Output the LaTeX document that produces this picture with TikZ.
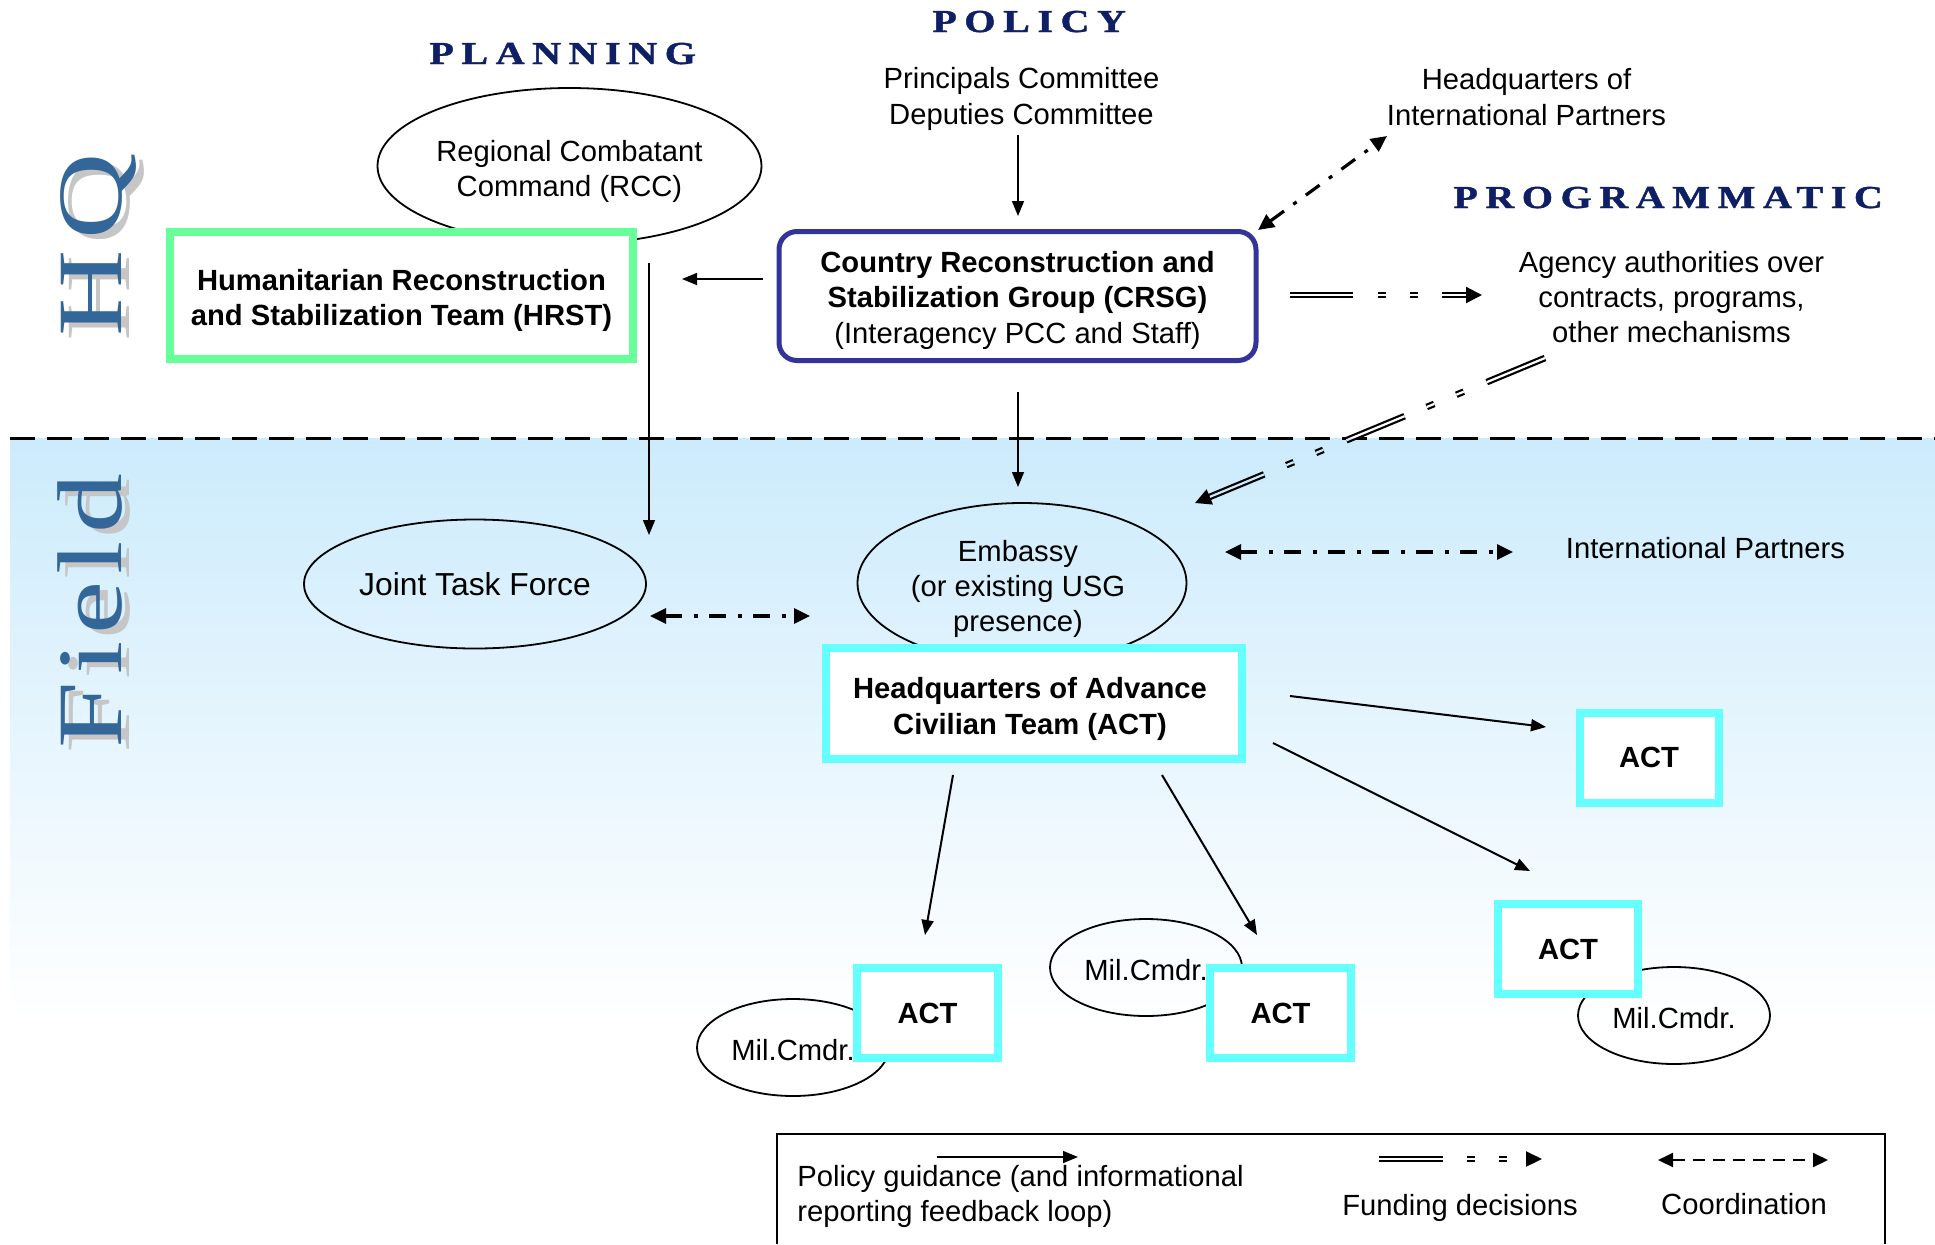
\documentclass[tikz,border=0pt]{standalone}
\usepackage{fontspec}
\usepackage{graphicx}
\setmainfont{Liberation Sans}
\newfontfamily\headserif[LetterSpace=19,FakeBold=1.2]{Liberation Serif}
\newfontfamily\bigserif[LetterSpace=6]{Liberation Serif}
\usetikzlibrary{arrows.meta,shapes.geometric}
\definecolor{navy}{HTML}{0F1F66}
\definecolor{hqblue}{HTML}{336699}
\definecolor{fieldtop}{HTML}{CCEBFC}
\definecolor{hrstgreen}{HTML}{66FF99}
\definecolor{actcyan}{HTML}{66FFFF}
\definecolor{crsgblue}{HTML}{333399}
\newcommand\nf{\fontsize{14.6pt}{17.6pt}\selectfont}
\tikzset{
  txt/.style={font=\nf, inner sep=0pt, align=center},
  oval/.style={ellipse, draw=black, line width=0.9pt, inner sep=0pt, font=\nf, align=center},
  greenbox/.style={draw=hrstgreen, line width=4pt, fill=white, inner sep=0pt, font=\nf\bfseries, align=center},
  cyanbox/.style={draw=actcyan, line width=4pt, fill=white, inner sep=0pt, font=\nf\bfseries, align=center},
  policy/.style={line width=0.75pt, -{Triangle[length=7.5pt,width=6pt]}},
  coordarrow/.style={line width=1.6pt, dash pattern=on 8.5pt off 5.75pt on 2pt off 5.75pt,
     {Triangle[length=8pt,width=7.5pt]}-{Triangle[length=8pt,width=7.5pt]}},
  fund/.style={line width=1.1pt, double distance=1.1pt,
     dash pattern=on 31.5pt off 12.5pt on 4pt off 12pt on 4pt off 12pt,
     -{Triangle[length=8pt,width=8pt]}},
  heading/.style={text=navy, inner sep=0pt, anchor=base west,
     font=\headserif\bfseries\fontsize{16pt}{18pt}\selectfont},
  vlabel/.style={rotate=90, anchor=base, inner sep=0pt},
}
\begin{document}
\begin{tikzpicture}[x=0.5pt,y=-0.5pt]
\useasboundingbox (0,0) rectangle (1935,1244);
% field background
\shade[top color=fieldtop, bottom color=white] (10,438) rectangle (1935,1020);
\draw[line width=1.5pt, dash pattern=on 12.5pt off 6pt] (10,438) -- (1935,438);

% side labels
\node[vlabel, text=gray!45] (hqsh) at (129,250) {\scalebox{1.3}[1]{\bigserif\fontsize{46pt}{50pt}\selectfont H\kern4pt Q}};
\node[vlabel, text=hqblue] (hq) at (121,245) {\scalebox{1.3}[1]{\bigserif\fontsize{46pt}{50pt}\selectfont H\kern4pt Q}};
\node[vlabel, text=gray!45] (fieldsh) at (129,616) {\scalebox{1.3}[1]{\bigserif\fontsize{46pt}{50pt}\selectfont Field}};
\node[vlabel, text=hqblue] (field) at (121,611) {\scalebox{1.3}[1]{\bigserif\fontsize{46pt}{50pt}\selectfont Field}};

% headings
\node[heading] (planning) at (429,64) {\scalebox{1.25}[1]{PLANNING}};
\node[heading] (policyh) at (932,32) {\scalebox{1.25}[1]{POLICY}};
\node[heading] (programmatic) at (1453,208) {\scalebox{1.25}[1]{PROGRAMMATIC}};

% HQ level
\node[oval, fill=white, minimum width=192pt, minimum height=78pt,
      label={[txt, yshift=-2.8pt]center:Regional Combatant\\Command (RCC)}] (rcc) at (569.5,166) {};
\node[greenbox, minimum width=231.5pt, minimum height=63.5pt,
      label={[txt, font=\nf\bfseries, yshift=-2.5pt]center:Humanitarian Reconstruction\\and Stabilization Team (HRST)}] (hrst) at (401.5,295.5) {};
\node[draw=crsgblue, line width=2.5pt, rounded corners=9pt, fill=white, inner sep=0pt,
      minimum width=238.5pt, minimum height=64.5pt,
      label={[txt, yshift=-2.2pt]center:\textbf{Country Reconstruction and}\\\textbf{Stabilization Group (CRSG)}\\(Interagency PCC and Staff)}] (crsg) at (1017.5,296) {};
\node[txt] (pc) at (1021.5,99) {Principals Committee\\Deputies Committee};
\node[txt] (hqip) at (1526.5,97) {Headquarters of\\International Partners};
\node[txt] (agency) at (1671.5,297) {Agency authorities over\\contracts, programs,\\other mechanisms};

% Field level
\node[oval, minimum width=171pt, minimum height=64.5pt, font=\fontsize{15.9pt}{18pt}\selectfont] (jtf) at (475,584) {Joint Task Force};
\node[oval, minimum width=164.5pt, minimum height=80pt,
      label={[txt, xshift=-2pt, yshift=-3pt]center:Embassy\\(or existing USG\\presence)}] (emb) at (1022,583) {};
\node[cyanbox, minimum width=208pt, minimum height=55.5pt,
      label={[txt, font=\nf\bfseries, xshift=-2pt, yshift=-2.7pt]center:Headquarters of Advance\\Civilian Team (ACT)}] (hqact) at (1034,703.5) {};
\node[txt, anchor=base] (ip) at (1705.5,558) {International Partners};

\node[oval, minimum width=96pt, minimum height=48.5pt,
      label={[txt, yshift=-1.5pt]center:Mil.Cmdr.}] (mc2) at (793,1047.5) {};
\node[oval, minimum width=96pt, minimum height=48.5pt,
      label={[txt, yshift=-1.5pt]center:Mil.Cmdr.}] (mc3) at (1146,967.5) {};
\node[oval, minimum width=96pt, minimum height=48.5pt,
      label={[txt, yshift=-1.5pt]center:Mil.Cmdr.}] (mc4) at (1674,1015.5) {};
\node[cyanbox, minimum width=69.5pt, minimum height=45pt] (act1) at (1649,757.5) {ACT};
\node[cyanbox, minimum width=70.5pt, minimum height=45pt] (act2) at (927.5,1013) {ACT};
\node[cyanbox, minimum width=70.5pt, minimum height=45pt] (act3) at (1280.5,1013) {ACT};
\node[cyanbox, minimum width=70pt, minimum height=45pt] (act4) at (1568,949) {ACT};

% connector end points
\coordinate (pcS) at (1018,135);   \coordinate (crsgN) at (1018,216);
\coordinate (crsgW) at (763,279);  \coordinate (hrstE) at (682,279);
\coordinate (hrstS) at (649,263);  \coordinate (jtfNE) at (649,535);
\coordinate (crsgS) at (1018,392); \coordinate (embN) at (1018,487);
\coordinate (crsgNE) at (1258,230); \coordinate (hqipSW) at (1387,136);
\coordinate (crsgE) at (1290,295); \coordinate (agW) at (1482,295);
\coordinate (agS) at (1545,358);   \coordinate (embNE) at (1195,503);
\coordinate (jtfE) at (650,616);   \coordinate (embW) at (810,616);
\coordinate (embE) at (1225,552);  \coordinate (ipW) at (1513,552);
\coordinate (hqa1) at (1290,696);  \coordinate (act1W) at (1546,727);
\coordinate (hqa4) at (1273,743);  \coordinate (act4NW) at (1530,871);
\coordinate (hqa2) at (953,775);   \coordinate (act2N) at (925,935);
\coordinate (hqa3) at (1162,775);  \coordinate (act3N) at (1257,935);

% policy arrows
\draw[policy] (pcS) -- (crsgN);
\draw[policy] (crsgW) -- (hrstE);
\draw[policy] (hrstS) -- (jtfNE);
\draw[policy] (crsgS) -- (embN);
\draw[policy, line width=1pt] (hqa1) -- (act1W);
\draw[policy, line width=1pt] (hqa4) -- (act4NW);
\draw[policy, line width=1pt] (hqa2) -- (act2N);
\draw[policy, line width=1pt] (hqa3) -- (act3N);

% coordination arrows
\draw[coordarrow] (crsgNE) -- (hqipSW);
\draw[coordarrow] (jtfE) -- (embW);
\draw[coordarrow] (embE) -- (ipW);

% funding arrows
\draw[fund, double=white] (crsgE) -- (agW);
\begin{scope}
  \clip (0,0) rectangle (1935,438);
  \draw[fund, double=white] (agS) -- (embNE);
\end{scope}
\begin{scope}
  \clip (0,438) rectangle (1935,1244);
  \draw[fund, double=fieldtop] (agS) -- (embNE);
\end{scope}

% legend
\draw[line width=0.9pt] (777,1244) -- (777,1134) -- (1885,1134) -- (1885,1244);
\coordinate (lgA1) at (937,1157);  \coordinate (lgA2) at (1078,1157);
\coordinate (lgF1) at (1379,1159); \coordinate (lgF2) at (1542,1159);
\coordinate (lgC1) at (1658,1160); \coordinate (lgC2) at (1828,1160);
\draw[policy] (lgA1) -- (lgA2);
\draw[fund, double=white, dash pattern=on 32pt off 12pt on 4pt off 12pt on 4pt off 20pt,
      -{Triangle[length=8pt,width=7.5pt]}] (lgF1) -- (lgF2);
\draw[line width=1pt, dash pattern=on 6pt off 4pt,
      {Triangle[length=7.5pt,width=7pt]}-{Triangle[length=7.5pt,width=7pt]}] (lgC1) -- (lgC2);
\node[txt, anchor=west, align=left] (lgtxt) at (797,1196.5) {Policy guidance (and informational\\reporting feedback loop)};
\node[txt, anchor=base] (lgfund) at (1460,1215) {Funding decisions};
\node[txt, anchor=base] (lgcoord) at (1744,1214) {Coordination};
\end{tikzpicture}
\end{document}
